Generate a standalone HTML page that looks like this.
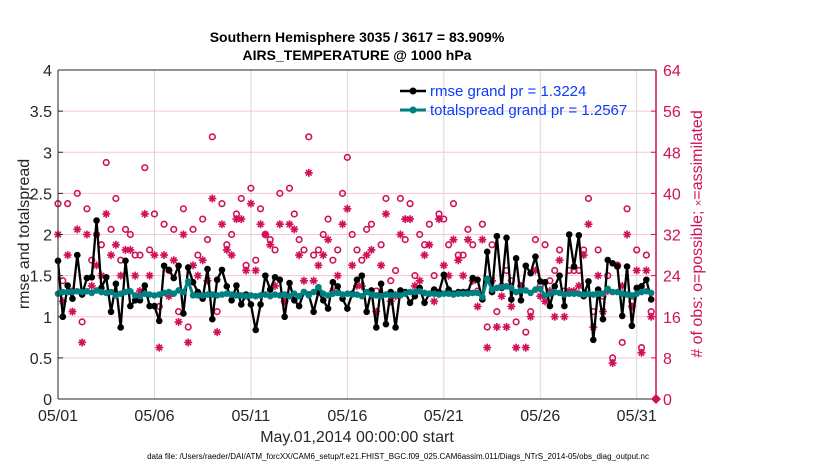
<!DOCTYPE html>
<html><head><meta charset="utf-8"><style>
body{margin:0;background:#fff;width:830px;height:470px;overflow:hidden}
svg{font-family:"Liberation Sans",Arial,sans-serif}
</style></head><body>
<svg id="chart" width="830" height="470" viewBox="0 0 830 470" xmlns="http://www.w3.org/2000/svg">
<g id="grid"></g>
<g id="obs"></g>
<g id="lines"></g>
<g id="axes"></g>
<text x="357" y="42" text-anchor="middle" font-size="14" font-weight="bold">Southern Hemisphere 3035 / 3617 = 83.909%</text>
<text x="357" y="60" text-anchor="middle" font-size="14" font-weight="bold">AIRS_TEMPERATURE @ 1000 hPa</text>
<text x="357" y="442" text-anchor="middle" font-size="16" fill="#262626">May.01,2014 00:00:00 start</text>
<text transform="translate(29,234) rotate(-90)" text-anchor="middle" font-size="16" fill="#262626">rmse and totalspread</text>
<text transform="translate(702,234) rotate(-90)" text-anchor="middle" font-size="16" fill="#d1105a"># of obs: o=possible; <tspan font-size="11">×</tspan>=assimilated</text>
<text x="398" y="459" text-anchor="middle" font-size="8">data file: /Users/raeder/DAI/ATM_forcXX/CAM6_setup/f.e21.FHIST_BGC.f09_025.CAM6assim.011/Diags_NTrS_2014-05/obs_diag_output.nc</text>
<g>
<line x1="400" y1="91" x2="426" y2="91" stroke="#000" stroke-width="2.5"/><circle cx="413" cy="91" r="3.5" fill="#000"/>
<text x="430" y="96" font-size="15" fill="#0a3cff">rmse grand pr = 1.3224</text>
<line x1="400" y1="110" x2="426" y2="110" stroke="#008080" stroke-width="3"/><circle cx="413" cy="110" r="3.5" fill="#008080"/>
<text x="430" y="115" font-size="15" fill="#0a3cff">totalspread grand pr = 1.2567</text>
</g>
</svg>
<script>
const rmse=[1.68,1.0,1.38,1.22,1.75,1.27,1.47,1.48,2.17,1.35,1.48,1.06,1.4,0.87,1.68,1.13,1.2,1.2,1.38,1.13,1.13,0.95,1.62,1.57,1.47,1.62,1.04,1.6,1.42,1.3,1.22,1.58,0.97,1.45,1.57,1.37,1.2,1.38,1.15,1.27,1.15,0.84,1.15,1.5,1.33,1.48,1.45,1.0,1.41,1.2,1.13,1.3,1.27,1.06,1.3,1.2,1.1,1.42,1.37,1.22,1.1,1.28,1.45,1.5,1.06,1.32,0.87,1.4,0.91,1.3,0.87,1.32,1.3,1.17,1.25,1.35,1.17,1.28,1.33,1.3,1.51,1.33,1.28,1.3,1.3,1.3,1.47,1.45,1.21,1.79,1.3,1.98,1.35,1.96,1.21,1.71,1.2,1.62,1.53,1.73,1.43,1.42,1.13,1.37,1.5,1.13,2.0,1.61,1.99,1.25,1.43,0.72,1.33,0.97,1.69,1.65,1.61,1.01,1.61,0.89,1.35,1.37,1.45,1.21];
const spread=[1.28,1.3,1.3,1.3,1.31,1.3,1.31,1.29,1.32,1.3,1.29,1.3,1.26,1.28,1.3,1.31,1.26,1.25,1.28,1.27,1.26,1.27,1.29,1.3,1.28,1.32,1.3,1.43,1.26,1.26,1.26,1.27,1.27,1.26,1.27,1.28,1.27,1.26,1.26,1.25,1.26,1.25,1.26,1.27,1.25,1.27,1.26,1.27,1.25,1.28,1.25,1.3,1.26,1.3,1.36,1.28,1.26,1.28,1.29,1.27,1.28,1.27,1.27,1.25,1.3,1.27,1.26,1.25,1.27,1.26,1.27,1.26,1.28,1.3,1.3,1.31,1.29,1.28,1.28,1.27,1.28,1.28,1.27,1.28,1.28,1.28,1.29,1.29,1.24,1.46,1.33,1.35,1.36,1.37,1.35,1.3,1.32,1.32,1.29,1.33,1.34,1.26,1.28,1.3,1.29,1.27,1.28,1.28,1.28,1.27,1.28,1.27,1.28,1.28,1.34,1.3,1.3,1.28,1.27,1.26,1.28,1.3,1.31,1.29];
const possible=[38,23,38,21,40,15,37,27,32,30,46,33,39,27,33,32,28,28,45,29,36,18,34,25,33,17,37,14,33,28,35,31,51,17,38,30,32,36,39,26,41,27,37,32,31,29,40,19,41,36,31,29,51,28,29,32,35,27,29,40,47,32,29,27,33,34,21,30,39,23,25,39,31,38,24,32,30,34,24,36,35,30,38,28,28,33,30,21,34,14,30,17,22,25,23,15,22,13,17,31,22,30,23,25,29,21,25,25,25,29,39,17,29,20,24,8,26,11,37,19,29,10,28,17];
const assimilated=[32,19,28,17,33,11,32,22,26,24,36,28,30,24,29,29,24,21,36,24,28,10,28,20,27,15,32,11,26,24,27,23,39,13,34,29,28,35,35,25,38,25,34,32,30,22,34,19,34,33,28,23,44,23,26,28,31,21,24,34,37,26,22,22,28,29,17,26,36,19,20,32,35,35,22,23,28,30,19,35,26,24,31,27,24,31,23,18,31,10,23,14,20,14,18,10,22,10,16,25,20,19,21,16,27,16,21,21,22,28,34,14,24,17,21,7,26,22,32,18,25,9,25,16];
const xTickLabels=["05/01","05/06","05/11","05/16","05/21","05/26","05/31"];
const yTickLabels=["0","0.5","1","1.5","2","2.5","3","3.5","4"];
const y2TickLabels=["0","8","16","24","32","40","48","56","64"];
const NS="http://www.w3.org/2000/svg";
const L=58,R=656,T=70,B=399,DAYS=31;
const xs=i=>L+(i*0.25)/DAYS*(R-L);
const xd=d=>L+d/DAYS*(R-L);
const ys=v=>B-v/4*(B-T);
const ys2=v=>B-v/64*(B-T);
function mk(tag,attrs,parent){const e=document.createElementNS(NS,tag);for(const k in attrs)e.setAttribute(k,attrs[k]);parent.appendChild(e);return e;}
const grid=document.getElementById('grid'),axes=document.getElementById('axes'),obs=document.getElementById('obs'),lines=document.getElementById('lines');
yTickLabels.forEach((t,i)=>{const y=ys(+t);
 if(i>0&&i<8){const g=mk('line',{x1:L,x2:R,y1:y,y2:y,stroke:'#f3c6d6','stroke-width':1},grid);}
 const lt=mk('text',{x:L-6,y:y+6,'text-anchor':'end','font-size':16,fill:'#262626'},axes);lt.textContent=t;
 
 mk('line',{x1:L,x2:L+5,y1:y,y2:y,stroke:'#262626'},axes);
});
y2TickLabels.forEach(t=>{const y=ys2(+t);
 const lt=mk('text',{x:R+7,y:y+6,'font-size':16,fill:'#d1105a'},axes);lt.textContent=t;
 
 mk('line',{x1:R-5,x2:R,y1:y,y2:y,stroke:'#d1105a'},axes);
});
xTickLabels.forEach((t,i)=>{const x=xd(i*5);
 if(i>0){const g=mk('line',{x1:x,x2:x,y1:T,y2:B,stroke:'#d8d8d8','stroke-width':1},grid);}
 const lt=mk('text',{x:x,y:B+22,'text-anchor':'middle','font-size':16,fill:'#262626'},axes);lt.textContent=t;
 
});
mk('line',{x1:L,x2:R,y1:T,y2:T,stroke:'#262626'},axes);
mk('line',{x1:L,x2:R,y1:B,y2:B,stroke:'#262626'},axes);
mk('line',{x1:L,x2:L,y1:T,y2:B,stroke:'#262626'},axes);
mk('line',{x1:R,x2:R,y1:T,y2:B,stroke:'#d1105a','stroke-width':1.5},axes);
const dm=mk('path',{d:`M${R} ${B-5}L${R+5} ${B}L${R} ${B+5}L${R-5} ${B}Z`,fill:'#d1105a'},axes);

const MC='#d1105a';
possible.forEach((v,i)=>{const c=mk('circle',{cx:xs(i),cy:ys2(v),r:2.8,fill:'none',stroke:MC,'stroke-width':1.6},obs);
 });
assimilated.forEach((v,i)=>{const x=xs(i),y=ys2(v),s=4;
 const p=mk('path',{d:`M${x-s} ${y}H${x+s}M${x} ${y-s}V${y+s}M${x-s*0.7} ${y-s*0.7}L${x+s*0.7} ${y+s*0.7}M${x-s*0.7} ${y+s*0.7}L${x+s*0.7} ${y-s*0.7}`,stroke:MC,'stroke-width':1.6},obs);
 });
function series(arr,color,w,name){
 const pl=mk('polyline',{points:arr.map((v,i)=>xs(i)+','+ys(v)).join(' '),fill:'none',stroke:color,'stroke-width':w,'stroke-linejoin':'round'},lines);
 
 arr.forEach((v,i)=>{const c=mk('circle',{cx:xs(i),cy:ys(v),r:3.3,fill:color},lines);
  });
}
series(rmse,'#000',2.3,'rmse');
series(spread,'#008080',3,'totalspread');
</script>
</body></html>
